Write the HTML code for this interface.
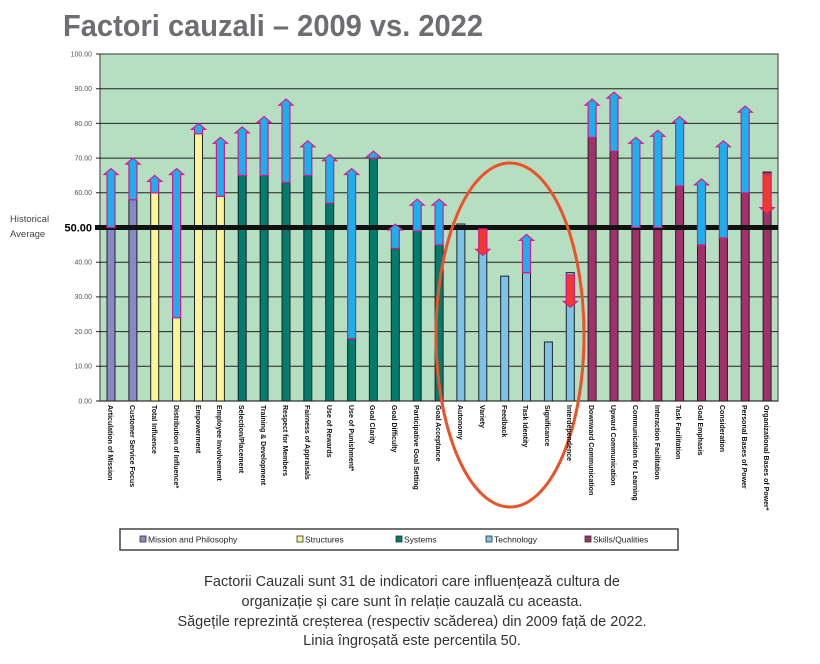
<!DOCTYPE html>
<html><head><meta charset="utf-8"><style>
html,body{margin:0;padding:0;background:#fff;width:820px;height:664px;overflow:hidden}
svg{display:block}
.yl{font:7px "Liberation Sans",sans-serif;fill:#555;text-anchor:end}
.xl{font:bold 7px "Liberation Sans",sans-serif;fill:#111}
.lg{font:8.5px "Liberation Sans",sans-serif;fill:#222}
.cap{font:14.5px "Liberation Sans",sans-serif;fill:#333;text-anchor:middle}
</style></head><body>
<svg width="820" height="664" viewBox="0 0 820 664">
<text x="63" y="36" font-family="Liberation Sans,sans-serif" font-weight="bold" font-size="31" fill="#6d6e71" textLength="420" lengthAdjust="spacingAndGlyphs">Factori cauzali – 2009 vs. 2022</text>
<rect x="100" y="54" width="678" height="347" fill="#b6dec0" stroke="#555" stroke-width="1.2"/>
<g stroke="#222" stroke-width="1">
<line x1="96" y1="88.7" x2="778" y2="88.7"/><line x1="96" y1="123.4" x2="778" y2="123.4"/><line x1="96" y1="158.1" x2="778" y2="158.1"/><line x1="96" y1="192.8" x2="778" y2="192.8"/><line x1="96" y1="262.2" x2="778" y2="262.2"/><line x1="96" y1="296.9" x2="778" y2="296.9"/><line x1="96" y1="331.6" x2="778" y2="331.6"/><line x1="96" y1="366.3" x2="778" y2="366.3"/><line x1="96" y1="54" x2="100" y2="54"/><line x1="96" y1="401" x2="778" y2="401"/>
</g>
<g class="yl">
<text x="92" y="56.5">100.00</text><text x="92" y="91">90.00</text><text x="92" y="126">80.00</text><text x="92" y="160.5">70.00</text><text x="92" y="195">60.00</text><text x="92" y="264.5">40.00</text><text x="92" y="299">30.00</text><text x="92" y="334">20.00</text><text x="92" y="368.5">10.00</text><text x="92" y="403.5">0.00</text>
</g>
<text x="92" y="231.5" text-anchor="end" font-family="Liberation Sans,sans-serif" font-weight="bold" font-size="11">50.00</text>
<text x="10" y="222" font-family="Liberation Sans,sans-serif" font-size="9.5" fill="#444">Historical</text>
<text x="10" y="237" font-family="Liberation Sans,sans-serif" font-size="9.5" fill="#444">Average</text>

<g stroke="#222" stroke-width="1">
<rect x="107" y="227.5" width="8" height="173.5" fill="#8a87c7"/>
<rect x="128.9" y="199.7" width="8" height="201.3" fill="#8a87c7"/>
<rect x="150.7" y="192.8" width="8" height="208.2" fill="#fbf59a"/>
<rect x="172.6" y="317.7" width="8" height="83.3" fill="#fbf59a"/>
<rect x="194.5" y="133.8" width="8" height="267.2" fill="#fbf59a"/>
<rect x="216.4" y="196.3" width="8" height="204.7" fill="#fbf59a"/>
<rect x="238.2" y="175.4" width="8" height="225.6" fill="#007c6e"/>
<rect x="260.1" y="175.4" width="8" height="225.6" fill="#007c6e"/>
<rect x="282" y="182.4" width="8" height="218.6" fill="#007c6e"/>
<rect x="303.8" y="175.4" width="8" height="225.6" fill="#007c6e"/>
<rect x="325.7" y="203.2" width="8" height="197.8" fill="#007c6e"/>
<rect x="347.6" y="338.5" width="8" height="62.5" fill="#007c6e"/>
<rect x="369.4" y="158.1" width="8" height="242.9" fill="#007c6e"/>
<rect x="391.3" y="248.3" width="8" height="152.7" fill="#007c6e"/>
<rect x="413.2" y="231" width="8" height="170" fill="#007c6e"/>
<rect x="435.1" y="244.9" width="8" height="156.1" fill="#007c6e"/>
<rect x="456.9" y="224" width="8" height="177" fill="#7cc3ea"/>
<rect x="478.8" y="227.5" width="8" height="173.5" fill="#7cc3ea"/>
<rect x="500.7" y="276.1" width="8" height="124.9" fill="#7cc3ea"/>
<rect x="522.5" y="272.6" width="8" height="128.4" fill="#7cc3ea"/>
<rect x="544.4" y="342" width="8" height="59" fill="#7cc3ea"/>
<rect x="566.3" y="272.6" width="8" height="128.4" fill="#7cc3ea"/>
<rect x="588.1" y="137.3" width="8" height="263.7" fill="#a2306a"/>
<rect x="610" y="151.2" width="8" height="249.8" fill="#a2306a"/>
<rect x="631.9" y="227.5" width="8" height="173.5" fill="#a2306a"/>
<rect x="653.8" y="227.5" width="8" height="173.5" fill="#a2306a"/>
<rect x="675.6" y="185.9" width="8" height="215.1" fill="#a2306a"/>
<rect x="697.5" y="244.9" width="8" height="156.1" fill="#a2306a"/>
<rect x="719.4" y="237.9" width="8" height="163.1" fill="#a2306a"/>
<rect x="741.2" y="192.8" width="8" height="208.2" fill="#a2306a"/>
<rect x="763.1" y="172" width="8" height="229" fill="#a2306a"/>
</g>
<line x1="95" y1="227.5" x2="778" y2="227.5" stroke="#111" stroke-width="5"/>

<defs>
<symbol id="u" overflow="visible"></symbol>
</defs>
<g fill="#1ab0ee" stroke="#e0168c" stroke-width="1.2">
<!-- up arrows: points relative -->
<polygon transform="translate(111,0)" points="-4,227.5 -4,174.5 -7,174.5 0,168.5 7,174.5 4,174.5 4,227.5"/>
<polygon transform="translate(132.9,0)" points="-4,199.7 -4,164.1 -7,164.1 0,158.1 7,164.1 4,164.1 4,199.7"/>
<polygon transform="translate(154.7,0)" points="-4,192.8 -4,181.4 -7,181.4 0,175.4 7,181.4 4,181.4 4,192.8"/>
<polygon transform="translate(176.6,0)" points="-4,317.7 -4,174.5 -7,174.5 0,168.5 7,174.5 4,174.5 4,317.7"/>
<polygon transform="translate(198.5,0)" points="-4,133.8 -4,129.4 -7,129.4 0,123.4 7,129.4 4,129.4 4,133.8"/>
<polygon transform="translate(220.4,0)" points="-4,196.3 -4,143.3 -7,143.3 0,137.3 7,143.3 4,143.3 4,196.3"/>
<polygon transform="translate(242.2,0)" points="-4,175.4 -4,132.9 -7,132.9 0,126.9 7,132.9 4,132.9 4,175.4"/>
<polygon transform="translate(264.1,0)" points="-4,175.4 -4,122.5 -7,122.5 0,116.5 7,122.5 4,122.5 4,175.4"/>
<polygon transform="translate(286,0)" points="-4,182.4 -4,105.1 -7,105.1 0,99.1 7,105.1 4,105.1 4,182.4"/>
<polygon transform="translate(307.8,0)" points="-4,175.4 -4,146.8 -7,146.8 0,140.8 7,146.8 4,146.8 4,175.4"/>
<polygon transform="translate(329.7,0)" points="-4,203.2 -4,160.6 -7,160.6 0,154.6 7,160.6 4,160.6 4,203.2"/>
<polygon transform="translate(351.6,0)" points="-4,338.5 -4,174.5 -7,174.5 0,168.5 7,174.5 4,174.5 4,338.5"/>
<polygon transform="translate(373.4,0)" points="-4,158.1 -4,157.2 -7,157.2 0,151.2 7,157.2 4,157.2 4,158.1"/>
<polygon transform="translate(395.3,0)" points="-4,248.3 -4,230 -7,230 0,224 7,230 4,230 4,248.3"/>
<polygon transform="translate(417.2,0)" points="-4,231 -4,205.2 -7,205.2 0,199.2 7,205.2 4,205.2 4,231"/>
<polygon transform="translate(439.1,0)" points="-4,244.9 -4,205.2 -7,205.2 0,199.2 7,205.2 4,205.2 4,244.9"/>
<polygon transform="translate(526.5,0)" points="-4,272.6 -4,240.4 -7,240.4 0,234.4 7,240.4 4,240.4 4,272.6"/>
<polygon transform="translate(592.1,0)" points="-4,137.3 -4,105.1 -7,105.1 0,99.1 7,105.1 4,105.1 4,137.3"/>
<polygon transform="translate(614,0)" points="-4,151.2 -4,98.2 -7,98.2 0,92.2 7,98.2 4,98.2 4,151.2"/>
<polygon transform="translate(635.9,0)" points="-4,227.5 -4,143.3 -7,143.3 0,137.3 7,143.3 4,143.3 4,227.5"/>
<polygon transform="translate(657.8,0)" points="-4,227.5 -4,136.3 -7,136.3 0,130.3 7,136.3 4,136.3 4,227.5"/>
<polygon transform="translate(679.6,0)" points="-4,185.9 -4,122.5 -7,122.5 0,116.5 7,122.5 4,122.5 4,185.9"/>
<polygon transform="translate(701.5,0)" points="-4,244.9 -4,184.9 -7,184.9 0,178.9 7,184.9 4,184.9 4,244.9"/>
<polygon transform="translate(723.4,0)" points="-4,237.9 -4,146.8 -7,146.8 0,140.8 7,146.8 4,146.8 4,237.9"/>
<polygon transform="translate(745.2,0)" points="-4,192.8 -4,112.1 -7,112.1 0,106.1 7,112.1 4,112.1 4,192.8"/>
</g>
<g fill="#f03a2e" stroke="#e0168c" stroke-width="1.2">
<polygon transform="translate(482.8,0)" points="-4,229 -4,249.3 -7,249.3 0,255.3 7,249.3 4,249.3 4,229"/>
<polygon transform="translate(570.3,0)" points="-4,275 -4,301.3 -7,301.3 0,307.3 7,301.3 4,301.3 4,275"/>
<polygon transform="translate(767.1,0)" points="-4,174 -4,207.6 -7,207.6 0,213.6 7,207.6 4,207.6 4,174"/>
</g>

<ellipse cx="510" cy="335" rx="74" ry="172" fill="none" stroke="#ee5128" stroke-width="3"/>

<g class="xl">
<text transform="translate(108,405) rotate(90)">Articulation of Mission</text>
<text transform="translate(130,405) rotate(90)">Customer Service Focus</text>
<text transform="translate(152,405) rotate(90)">Total Influence</text>
<text transform="translate(174,405) rotate(90)">Distribution of Influence*</text>
<text transform="translate(196,405) rotate(90)">Empowerment</text>
<text transform="translate(217,405) rotate(90)">Employee Involvement</text>
<text transform="translate(239,405) rotate(90)">Selection/Placement</text>
<text transform="translate(261,405) rotate(90)">Training &amp; Development</text>
<text transform="translate(283,405) rotate(90)">Respect for Members</text>
<text transform="translate(305,405) rotate(90)">Fairness of Appraisals</text>
<text transform="translate(327,405) rotate(90)">Use of Rewards</text>
<text transform="translate(349,405) rotate(90)">Use of Punishment*</text>
<text transform="translate(370,405) rotate(90)">Goal Clarity</text>
<text transform="translate(392,405) rotate(90)">Goal Difficulty</text>
<text transform="translate(414,405) rotate(90)">Participative Goal Setting</text>
<text transform="translate(436,405) rotate(90)">Goal Acceptance</text>
<text transform="translate(458,405) rotate(90)">Autonomy</text>
<text transform="translate(480,405) rotate(90)">Variety</text>
<text transform="translate(502,405) rotate(90)">Feedback</text>
<text transform="translate(523,405) rotate(90)">Task Identity</text>
<text transform="translate(545,405) rotate(90)">Significance</text>
<text transform="translate(567,405) rotate(90)">Interdependence</text>
<text transform="translate(589,405) rotate(90)">Downward Communication</text>
<text transform="translate(611,405) rotate(90)">Upward Communication</text>
<text transform="translate(633,405) rotate(90)">Communication for Learning</text>
<text transform="translate(655,405) rotate(90)">Interaction Facilitation</text>
<text transform="translate(676,405) rotate(90)">Task Facilitation</text>
<text transform="translate(698,405) rotate(90)">Goal Emphasis</text>
<text transform="translate(720,405) rotate(90)">Consideration</text>
<text transform="translate(742,405) rotate(90)">Personal Bases of Power</text>
<text transform="translate(764,405) rotate(90)">Organizational Bases of Power*</text>
</g>

<rect x="120" y="529" width="558" height="21" fill="#fff" stroke="#444" stroke-width="1.5"/>
<g stroke="#333" stroke-width="0.8">
<rect x="140" y="536" width="6" height="6" fill="#8a87c7"/>
<rect x="297" y="536" width="6" height="6" fill="#fbf59a"/>
<rect x="396" y="536" width="6" height="6" fill="#007c6e"/>
<rect x="486" y="536" width="6" height="6" fill="#7cc3ea"/>
<rect x="585" y="536" width="6" height="6" fill="#a2306a"/>
</g>
<g class="lg">
<text x="148" y="542.5">Mission and Philosophy</text>
<text x="305" y="542.5">Structures</text>
<text x="404" y="542.5">Systems</text>
<text x="494" y="542.5">Technology</text>
<text x="593" y="542.5">Skills/Qualities</text>
</g>

<g class="cap">
<text x="412" y="586">Factorii Cauzali sunt 31 de indicatori care influențează cultura de</text>
<text x="412" y="606">organizație și care sunt în relație cauzală cu aceasta.</text>
<text x="412" y="626">Săgețile reprezintă creșterea (respectiv scăderea) din 2009 față de 2022.</text>
<text x="412" y="645">Linia îngroșată este percentila 50.</text>
</g>
</svg>
</body></html>
